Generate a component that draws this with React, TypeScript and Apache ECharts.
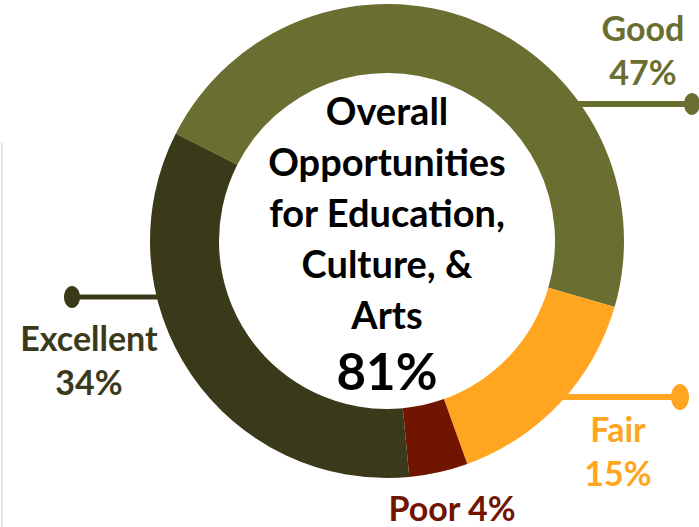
import React, { useEffect, useRef } from "react";
import * as echarts from "echarts";

const categories = ["Good", "Fair", "Poor", "Excellent"];
const values = [47, 15, 4, 34];
const colors = ["#6B6E31", "#FFA520", "#711500", "#3A3A1A"];
const centerTitle = ["Overall", "Opportunities", "for Education,", "Culture, &", "Arts"];
const centerValue = "81%";

// label layout (positions only)
const labelPos: Record<string, { x: number; y: number }> = {
  Good: { x: 643, y: 49 },
  Fair: { x: 618, y: 450 },
  Poor: { x: 452, y: 507 },
  Excellent: { x: 89, y: 359 },
};

const FONT = "Lato";

export default function App() {
  const ref = useRef<HTMLDivElement>(null);
  useEffect(() => {
    if (!ref.current) return;
    const chart = echarts.init(ref.current, null, { renderer: "svg" });
    const data = categories.map((name, i) => ({
      name,
      value: values[i],
      itemStyle: { color: colors[i] },
      label: {
        color: colors[i],
        formatter: name === "Poor" ? "{b} {c}%" : "{b}\n{c}%",
        lineHeight: name === "Poor" ? 30 : 44,
      },
    }));
    chart.setOption({
      animation: false,
      backgroundColor: "#ffffff",
      graphic: [
        { type: "line", z: 0, shape: { x1: 2, y1: 143, x2: 2, y2: 527 }, style: { stroke: "#e3e3e3", lineWidth: 2 } },
        // leader lines and dots
        { type: "line", z: 0, shape: { x1: 72, y1: 297, x2: 170, y2: 297 }, style: { stroke: colors[3], lineWidth: 5 } },
        { type: "ellipse", z: 0, shape: { cx: 72, cy: 297, rx: 8, ry: 11 }, style: { fill: colors[3] } },
        { type: "line", z: 0, shape: { x1: 570, y1: 104, x2: 692, y2: 104 }, style: { stroke: colors[0], lineWidth: 6 } },
        { type: "ellipse", z: 0, shape: { cx: 692, cy: 104, rx: 8, ry: 11 }, style: { fill: colors[0] } },
        { type: "line", z: 0, shape: { x1: 555, y1: 397, x2: 680, y2: 397 }, style: { stroke: colors[1], lineWidth: 6 } },
        { type: "ellipse", z: 0, shape: { cx: 680, cy: 397, rx: 9, ry: 13 }, style: { fill: colors[1] } },
        {
          type: "text",
          z: 10,
          x: 387,
          y: 212,
          style: {
            text: centerTitle.join("\n"),
            fontFamily: FONT,
            fontWeight: "bold",
            fontSize: 38,
            lineHeight: 51,
            fill: "#000000",
            align: "center",
            verticalAlign: "middle",
          },
        },
        {
          type: "text",
          z: 10,
          x: 387,
          y: 370,
          style: {
            text: centerValue,
            fontFamily: FONT,
            fontWeight: "bold",
            fontSize: 51,
            fill: "#000000",
            align: "center",
            verticalAlign: "middle",
          },
        },
      ],
      series: [
        {
          type: "pie",
          z: 2,
          center: [387, 241],
          radius: [168, 237],
          startAngle: 153,
          clockwise: true,
          avoidLabelOverlap: false,
          label: {
            show: true,
            position: "outside",
            fontFamily: FONT,
            fontWeight: "bold",
            fontSize: 34,
            lineHeight: 44,
            align: "center",
          },
          labelLine: { show: false },
          labelLayout: (p: any) => {
            const pos = labelPos[categories[p.dataIndex]];
            return { x: pos.x, y: pos.y, align: "center", verticalAlign: "middle" };
          },
          itemStyle: { borderWidth: 0 },
          emphasis: { disabled: true },
          data,
        },
      ],
    });
    return () => chart.dispose();
  }, []);
  return (
    <div
      ref={ref}
      style={{ position: "absolute", left: 0, top: 0, width: 699, height: 527 }}
    />
  );
}
